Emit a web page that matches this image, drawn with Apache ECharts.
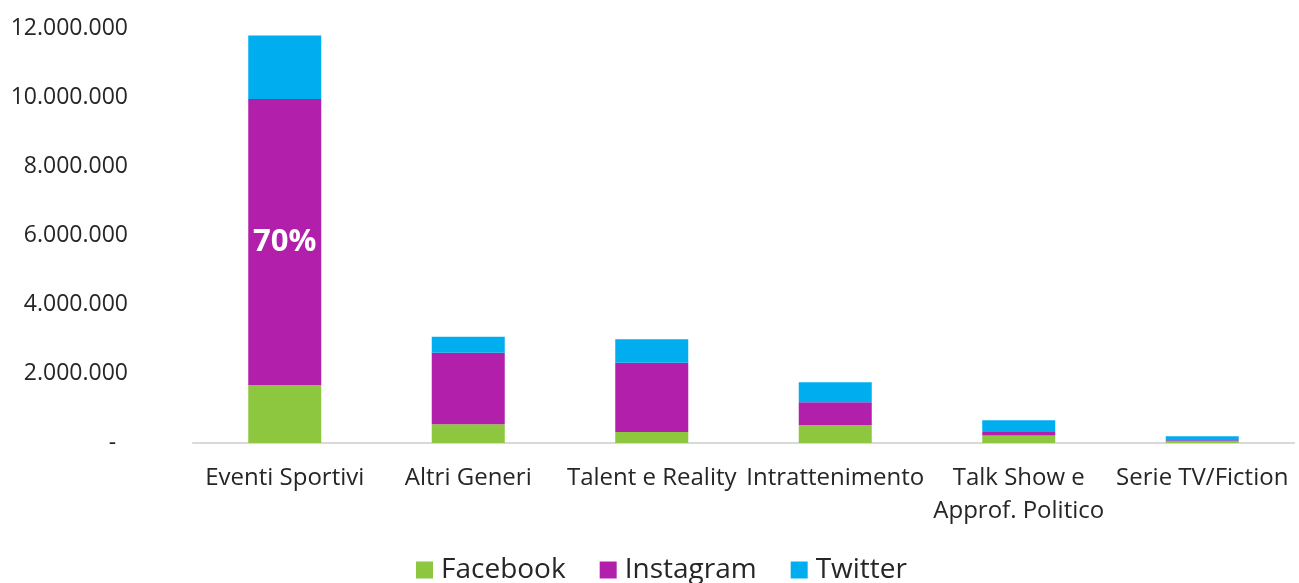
<!DOCTYPE html>
<html>
<head>
<meta charset="utf-8">
<script src="https://cdn.jsdelivr.net/npm/echarts@6/dist/echarts.min.js"></script>
<style>
html,body{margin:0;padding:0;background:#fff;}
#c{width:1299px;height:583px;}
</style>
</head>
<body>
<div id="c"></div>
<script>
const categories = ['Eventi Sportivi', 'Altri Generi', 'Talent e Reality', 'Intrattenimento', 'Talk Show e\nApprof. Politico', 'Serie TV/Fiction'];
const facebook  = [1680000, 540000, 320000, 520000, 220000, 50000];
const instagram = [8270000, 2070000, 2000000, 660000, 100000, 30000];
const twitter   = [1830000, 460000, 680000, 580000, 340000, 115000];
const seriesNames = ['Facebook', 'Instagram', 'Twitter'];
const yTicks = { min: 0, max: 12000000, interval: 2000000 };

function fmt(v) {
  if (v === 0) return '-  ';
  return String(Math.round(v)).replace(/\B(?=(\d{3})+(?!\d))/g, '.');
}

const totals = categories.map((_, i) => facebook[i] + instagram[i] + twitter[i]);

const chart = echarts.init(document.getElementById('c'), null, { renderer: 'canvas' });
const font = '"Open Sans", "Noto Sans", sans-serif';
const barW = 73;

chart.setOption({
  animation: false,
  textStyle: { fontFamily: font },
  grid: { left: 193, right: 5, top: 28, bottom: 140, containLabel: false },
  legend: {
    data: seriesNames,
    left: 416,
    top: 556,
    padding: 0,
    icon: 'rect',
    itemWidth: 17,
    itemHeight: 17,
    itemGap: 34,
    textStyle: { fontSize: 28, color: '#262626', fontFamily: font, padding: [0, 0, 0, 3], lineHeight: 28 }
  },
  xAxis: {
    type: 'category',
    data: categories,
    axisLine: { show: true, lineStyle: { color: '#d9d9d9', width: 2 } },
    axisTick: { show: false },
    axisLabel: { fontSize: 24, color: '#262626', fontFamily: font, margin: 19, lineHeight: 33, interval: 0 }
  },
  yAxis: {
    type: 'value',
    min: yTicks.min,
    max: yTicks.max,
    interval: yTicks.interval,
    splitLine: { show: false },
    axisLine: { show: false },
    axisTick: { show: false },
    axisLabel: { fontSize: 23, color: '#262626', fontFamily: font, margin: 65, formatter: fmt }
  },
  series: [
    {
      name: 'Facebook', type: 'bar', stack: 'tot', barWidth: barW,
      itemStyle: { color: '#8dc63f' },
      data: facebook
    },
    {
      name: 'Instagram', type: 'bar', stack: 'tot', barWidth: barW,
      itemStyle: { color: '#b11fab' },
      data: instagram.map((v, i) => i === 0 ? {
        value: v,
        label: {
          show: true, position: 'inside', color: '#fff', fontWeight: 'bold', fontSize: 31, fontFamily: font,
          formatter: () => Math.round(instagram[i] / totals[i] * 100) + '%'
        }
      } : v)
    },
    {
      name: 'Twitter', type: 'bar', stack: 'tot', barWidth: barW,
      itemStyle: { color: '#00aeef' },
      data: twitter
    }
  ]
});
</script>
</body>
</html>
